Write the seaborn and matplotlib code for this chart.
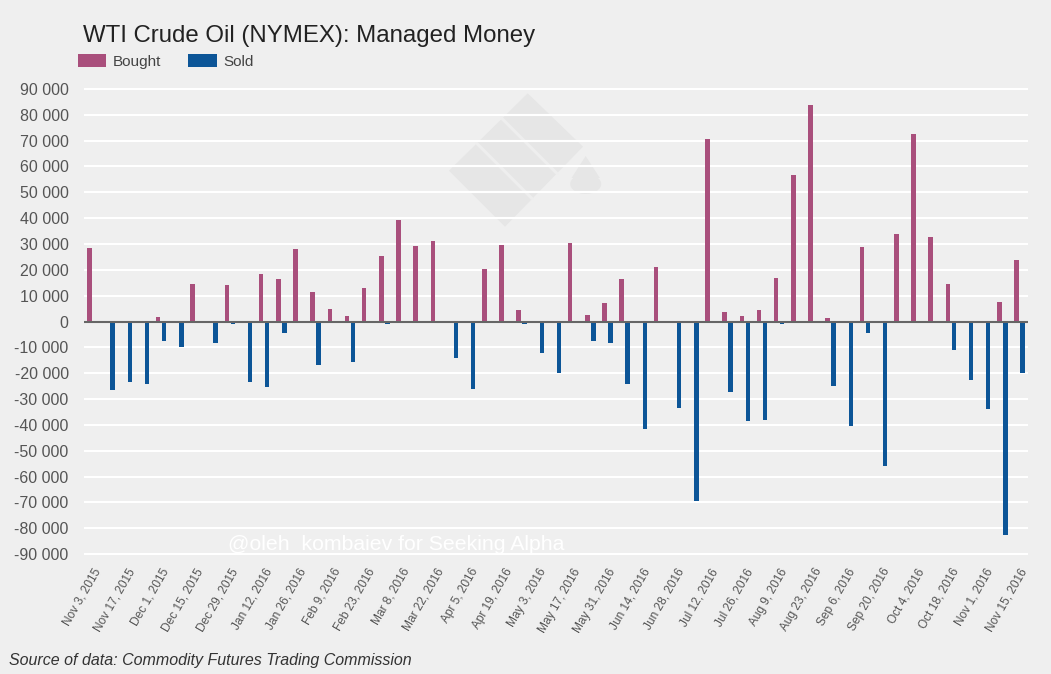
import matplotlib
matplotlib.use("Agg")
import matplotlib.pyplot as plt
import matplotlib.patches as mpatches
import matplotlib.transforms as mtransforms
from matplotlib.ticker import FuncFormatter
import seaborn as sns
import pandas as pd

weeks = [
    "Nov 3, 2015", "Nov 10, 2015", "Nov 17, 2015", "Nov 24, 2015", "Dec 1, 2015",
    "Dec 8, 2015", "Dec 15, 2015", "Dec 22, 2015", "Dec 29, 2015", "Jan 5, 2016",
    "Jan 12, 2016", "Jan 19, 2016", "Jan 26, 2016", "Feb 2, 2016", "Feb 9, 2016",
    "Feb 16, 2016", "Feb 23, 2016", "Mar 1, 2016", "Mar 8, 2016", "Mar 15, 2016",
    "Mar 22, 2016", "Mar 29, 2016", "Apr 5, 2016", "Apr 12, 2016", "Apr 19, 2016",
    "Apr 26, 2016", "May 3, 2016", "May 10, 2016", "May 17, 2016", "May 24, 2016",
    "May 31, 2016", "Jun 7, 2016", "Jun 14, 2016", "Jun 21, 2016", "Jun 28, 2016",
    "Jul 5, 2016", "Jul 12, 2016", "Jul 19, 2016", "Jul 26, 2016", "Aug 2, 2016",
    "Aug 9, 2016", "Aug 16, 2016", "Aug 23, 2016", "Aug 30, 2016", "Sep 6, 2016",
    "Sep 13, 2016", "Sep 20, 2016", "Sep 27, 2016", "Oct 4, 2016", "Oct 11, 2016",
    "Oct 18, 2016", "Oct 25, 2016", "Nov 1, 2016", "Nov 8, 2016", "Nov 15, 2016",
]

bought = [
    28400, 0, 0, 0, 1800, 0, 14700, 0, 14200, 0,
    18200, 16400, 27900, 11600, 4900, 2300, 12900, 25300, 39100, 29300,
    31000, 0, 0, 20400, 29800, 4500, 0, 0, 30200, 2700,
    7100, 16400, 0, 21200, 0, 0, 70500, 3600, 2300, 4500,
    16900, 56700, 83800, 1300, 0, 28800, 0, 33700, 72700, 32800,
    14600, 0, 0, 7600, 23900,
]

sold = [
    0, -26700, -23600, -24100, -7700, -9800, 0, -8500, -800, -23600,
    -25400, -4300, 0, -16900, 0, -15800, 0, -800, 0, 0,
    0, -14300, -26200, 0, 0, -1000, -12000, -20000, 0, -7700,
    -8500, -24000, -41700, 0, -33300, -69600, 0, -27100, -38600, -38200,
    -900, 0, 0, -24800, -40400, -4500, -55900, 0, 0, 0,
    -11200, -22700, -33800, -82500, -20100,
]

series_names = ["Bought", "Sold"]
colors = ["#a94f7c", "#0c5597"]
y_ticks = list(range(-90000, 90001, 10000))

df = pd.DataFrame({
    "week": weeks * 2,
    "value": bought + sold,
    "type": [series_names[0]] * len(weeks) + [series_names[1]] * len(weeks),
})

sns.set_style("white", {"axes.facecolor": "#efefef", "figure.facecolor": "#efefef"})
plt.rcParams["font.family"] = ["Liberation Sans", "DejaVu Sans"]

W, H = 1051, 674
fig = plt.figure(figsize=(W / 100, H / 100), dpi=100)
fig.patch.set_facecolor("#efefef")
ax = fig.add_axes([84 / W, 1 - 556.6 / H, (1028 - 84) / W, (556.6 - 86.4) / H])
ax.set_facecolor("#efefef")


def P(x, y):
    return (x / W, 1 - y / H)


# faint oil barrel watermark (decoration, in pixel positions of the figure)
wm = "#e6e6e6"
barrel = mpatches.Polygon([P(527.7, 93.3), P(583, 146.7), P(505, 226.7), P(449, 170.7)],
                          closed=True, transform=fig.transFigure,
                          facecolor=wm, edgecolor="none", zorder=0.1)
ax.add_artist(barrel)
for (x0, y0, x1, y1) in [(476.7, 143.3, 531.7, 198.3), (501.7, 118.3, 556.7, 173.3)]:
    a, b = P(x0, y0), P(x1, y1)
    ax.add_artist(plt.Line2D([a[0], b[0]], [a[1], b[1]], transform=fig.transFigure,
                             color="#eeeeee", lw=2.2, zorder=0.15))
drop = mpatches.Circle(P(585.7, 184), 15.5 / W, transform=fig.transFigure,
                       facecolor=wm, edgecolor="none", zorder=0.1)
ax.add_artist(drop)
drop_tip = mpatches.Polygon([P(571.5, 178), P(599.9, 178), P(585.7, 156)],
                            closed=True, transform=fig.transFigure,
                            facecolor=wm, edgecolor="none", zorder=0.1)
ax.add_artist(drop_tip)

sns.barplot(data=df, x="week", y="value", hue="type", hue_order=series_names,
            palette=colors, order=weeks, width=0.7, gap=0.25, errorbar=None,
            linewidth=0, saturation=1, ax=ax, legend=False, zorder=3)

ax.set_xlim(-0.5, len(weeks) - 0.5)
ax.set_ylim(-91000, 91000)
ax.set_yticks(y_ticks)
ax.yaxis.set_major_formatter(FuncFormatter(lambda v, p: f"{int(v):,}".replace(",", " ")))
ax.grid(axis="y", color="white", linewidth=1.5, zorder=1)
for gl in ax.get_ygridlines():
    gl.set_zorder(1)
ax.set_axisbelow(False)
ax.axhline(0, color="#666666", linewidth=1.5, zorder=4)
for s in ax.spines.values():
    s.set_visible(False)

ax.set_xticks(range(0, len(weeks), 2))
ax.set_xticklabels(weeks[::2], rotation=60, ha="right", rotation_mode="anchor",
                   fontsize=8.6, color="#555555")
offset = mtransforms.ScaledTranslation(-5 / 100, 0, fig.dpi_scale_trans)
for lab in ax.get_xticklabels():
    lab.set_transform(lab.get_transform() + offset)
ax.tick_params(axis="x", length=0, pad=7)
ax.tick_params(axis="y", length=0, pad=11, labelsize=11.5, labelcolor="#555555")
ax.set_xlabel("")
ax.set_ylabel("")

fig.text(83 / W, 1 - 42 / H, "WTI Crude Oil (NYMEX): Managed Money",
         fontsize=17.3, color="#222222", ha="left", va="baseline")

handles = [mpatches.Patch(facecolor=c, edgecolor="none", label=n) for n, c in zip(series_names, colors)]
leg = fig.legend(handles=handles, loc="upper left", bbox_to_anchor=(78 / W, 1 - 54 / H),
                 bbox_transform=fig.transFigure, ncol=2, frameon=False, fontsize=11,
                 handlelength=1.85, handleheight=0.95, handletextpad=0.45,
                 columnspacing=1.75, borderpad=0, borderaxespad=0)
for t in leg.get_texts():
    t.set_color("#444444")

fig.text(228 / W, 1 - 544 / H, "@oleh_kombaiev for Seeking Alpha", fontsize=15.3,
         color="white", ha="left", va="center")

fig.text(9 / W, 1 - 660 / H, "Source of data: Commodity Futures Trading Commission",
         fontsize=11.5, style="italic", color="#333333", ha="left", va="center")

fig.savefig("out.png", dpi=100, facecolor=fig.get_facecolor())
